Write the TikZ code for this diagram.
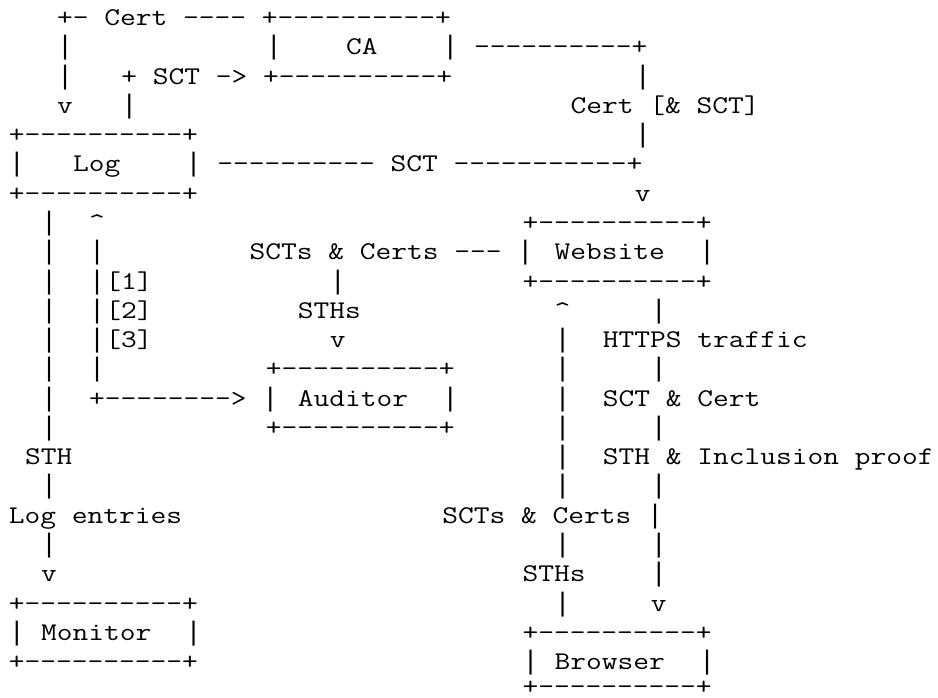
\documentclass[tikz,border=0pt]{standalone}
\usepackage{fontspec}
\setmonofont{Latin Modern Mono}[FakeStretch=1.2]
\newfontfamily\barfont{Liberation Mono}
\tikzset{
  ascii/.style={anchor=base west, inner sep=0pt, outer sep=0pt,
    font=\ttfamily\fontsize{19.11pt}{24pt}\selectfont, text=black}
}
% a "|" character with the tall shape of Courier's bar (same cell width)
\newcommand\vb{{\barfont\fontsize{20.06pt}{24pt}\selectfont|}}
\newcommand\seg[4]{\node[ascii] (#1) at ({8.97+16.05*#2},{25.6+29.27*#3}) {#4};}
\begin{document}
\begin{tikzpicture}[x=0.75pt,y=-0.75pt]
\fill[white] (0,0) rectangle (938,697);
\useasboundingbox (0,0) rectangle (938,697);
% row 0
\seg{a0}{3}{0}{+- Cert ---- +----------+}
% row 1
\seg{a1}{3}{1}{\vb}
\seg{b1}{16}{1}{\vb}
\seg{ca}{21}{1}{CA}
\seg{c1}{27}{1}{\vb{} ----------+}
% row 2
\seg{a2}{3}{2}{\vb}
\seg{b2}{7}{2}{+ SCT -> +----------+}
\seg{c2}{39}{2}{\vb}
% row 3
\seg{a3}{3}{3}{v}
\seg{b3}{7}{3}{\vb}
\seg{c3}{35}{3}{Cert [\& SCT]}
% row 4
\seg{a4}{0}{4}{+----------+}
\seg{b4}{39}{4}{\vb}
% row 5
\seg{a5}{0}{5}{\vb}
\seg{log}{4}{5}{Log}
\seg{b5}{11}{5}{\vb{} ---------- SCT -----------+}
% row 6
\seg{a6}{0}{6}{+----------+}
\seg{b6}{39}{6}{v}
% row 7
\seg{a7}{2}{7}{\vb}
\seg{b7}{5}{7}{\textasciicircum}
\seg{c7}{32}{7}{+----------+}
% row 8
\seg{a8}{2}{8}{\vb}
\seg{b8}{5}{8}{\vb}
\seg{c8}{15}{8}{SCTs \& Certs --- \vb}
\seg{web}{34}{8}{Website}
\seg{d8}{43}{8}{\vb}
% row 9
\seg{a9}{2}{9}{\vb}
\seg{b9}{5}{9}{\vb[1]}
\seg{c9}{20}{9}{\vb}
\seg{d9}{32}{9}{+----------+}
% row 10
\seg{a10}{2}{10}{\vb}
\seg{b10}{5}{10}{\vb[2]}
\seg{c10}{18}{10}{STHs}
\seg{d10}{34}{10}{\textasciicircum}
\seg{e10}{40}{10}{\vb}
% row 11
\seg{a11}{2}{11}{\vb}
\seg{b11}{5}{11}{\vb[3]}
\seg{c11}{20}{11}{v}
\seg{d11}{34}{11}{\vb}
\seg{e11}{37}{11}{HTTPS traffic}
% row 12
\seg{a12}{2}{12}{\vb}
\seg{b12}{5}{12}{\vb}
\seg{c12}{16}{12}{+----------+}
\seg{d12}{34}{12}{\vb}
\seg{e12}{40}{12}{\vb}
% row 13
\seg{a13}{2}{13}{\vb}
\seg{b13}{5}{13}{+--------> \vb}
\seg{aud}{18}{13}{Auditor}
\seg{c13}{27}{13}{\vb}
\seg{d13}{34}{13}{\vb}
\seg{e13}{37}{13}{SCT \& Cert}
% row 14
\seg{a14}{2}{14}{\vb}
\seg{c14}{16}{14}{+----------+}
\seg{d14}{34}{14}{\vb}
\seg{e14}{40}{14}{\vb}
% row 15
\seg{a15}{1}{15}{STH}
\seg{d15}{34}{15}{\vb}
\seg{e15}{37}{15}{STH \& Inclusion proof}
% row 16
\seg{a16}{2}{16}{\vb}
\seg{d16}{34}{16}{\vb}
\seg{e16}{40}{16}{\vb}
% row 17
\seg{a17}{0}{17}{Log entries}
\seg{d17}{27}{17}{SCTs \& Certs \vb}
% row 18
\seg{a18}{2}{18}{\vb}
\seg{d18}{34}{18}{\vb}
\seg{e18}{40}{18}{\vb}
% row 19
\seg{a19}{2}{19}{v}
\seg{d19}{32}{19}{STHs}
\seg{e19}{40}{19}{\vb}
% row 20
\seg{a20}{0}{20}{+----------+}
\seg{d20}{34}{20}{\vb}
\seg{e20}{40}{20}{v}
% row 21
\seg{a21}{0}{21}{\vb}
\seg{mon}{2}{21}{Monitor}
\seg{b21}{11}{21}{\vb}
\seg{d21}{32}{21}{+----------+}
% row 22
\seg{a22}{0}{22}{+----------+}
\seg{d22}{32}{22}{\vb}
\seg{bro}{34}{22}{Browser}
\seg{e22}{43}{22}{\vb}
% row 23 (lifted slightly so that it stays inside the page)
\node[ascii, text depth=0pt] (d23) at ({8.97+16.05*32},694.8) {+----------+};
\end{tikzpicture}
\end{document}
